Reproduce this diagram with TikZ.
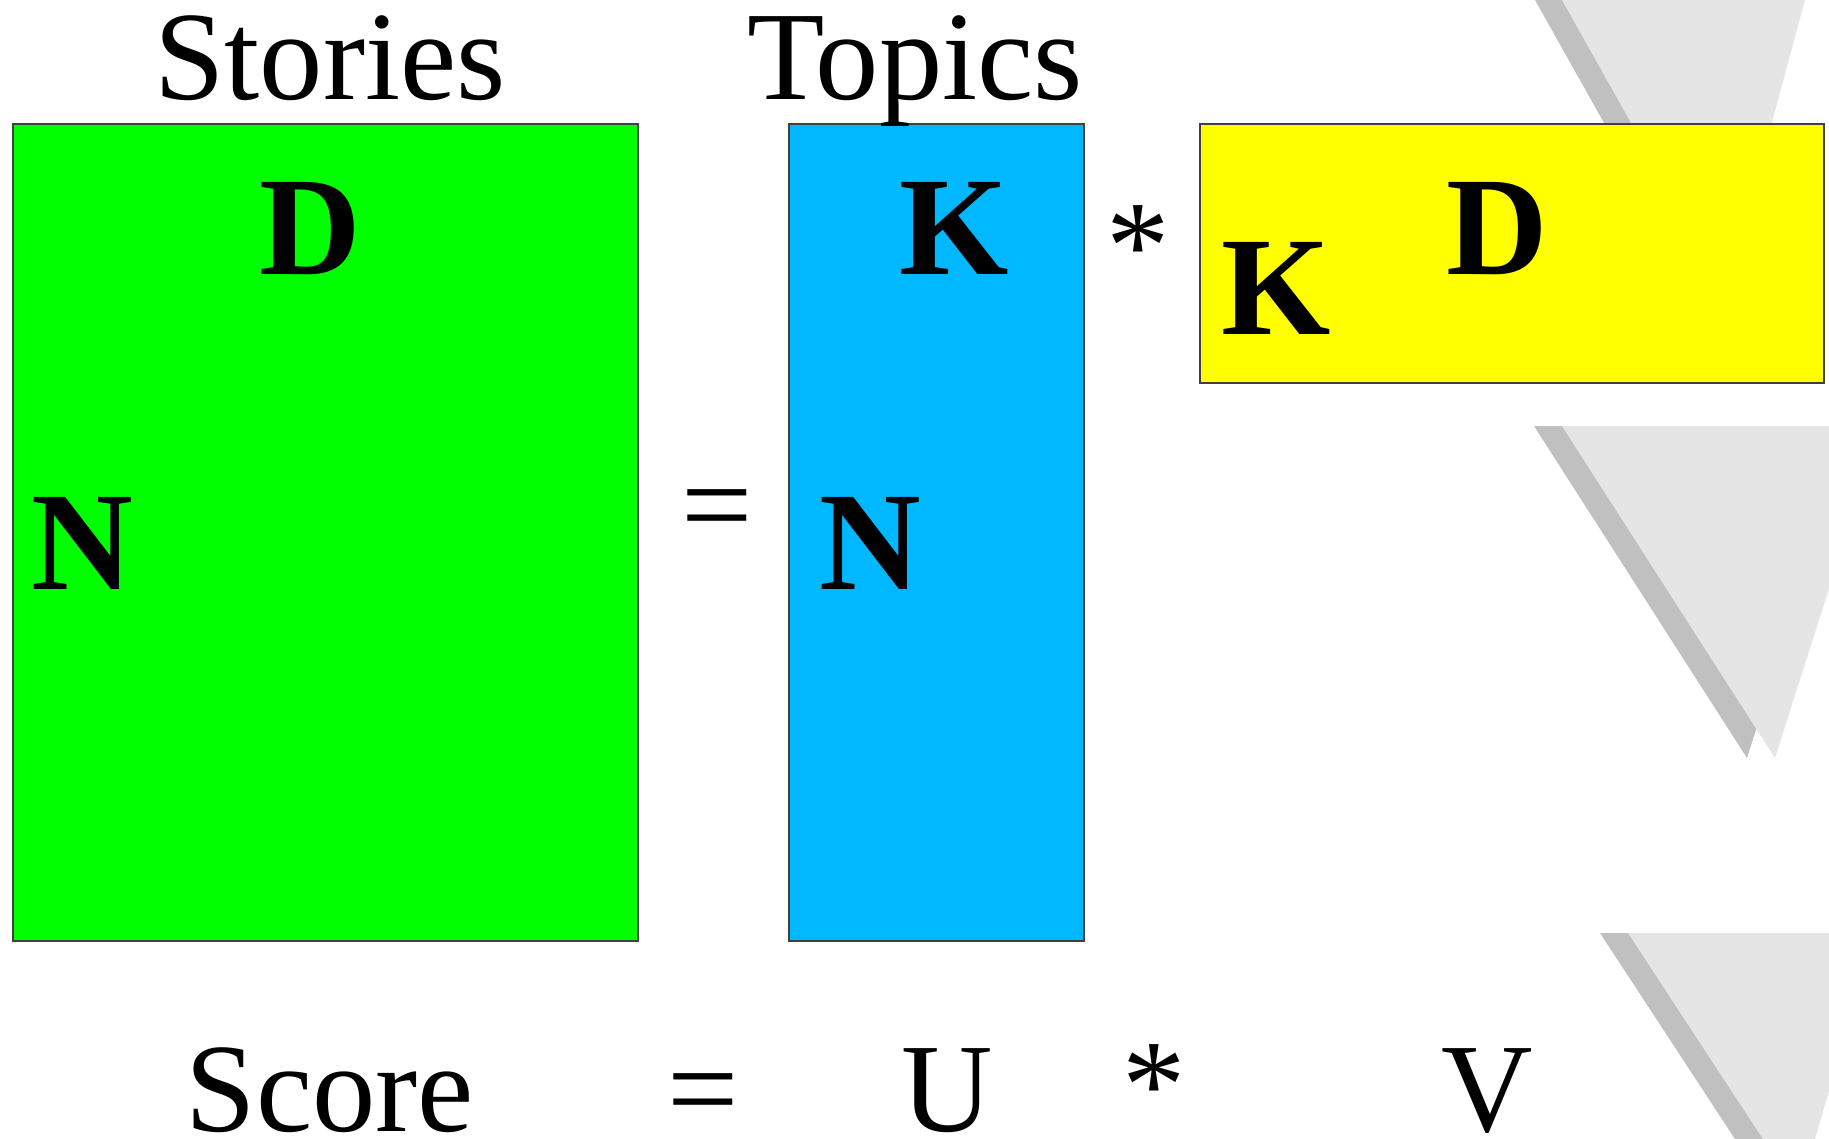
\documentclass[tikz,border=0pt]{standalone}
\usepackage{fontspec}
\setmainfont{Liberation Serif}
\definecolor{storygreen}{RGB}{0,255,0}
\definecolor{topicblue}{RGB}{0,184,255}
\definecolor{wordyellow}{RGB}{255,255,0}
\definecolor{triglight}{RGB}{229,229,229}
\definecolor{trigshadow}{RGB}{192,192,192}
\tikzset{
  matbox/.style={draw=black!75, line width=0.3pt},
  headtext/.style={font=\fontsize{36}{40}\selectfont, anchor=base, inner sep=0pt},
  dimtext/.style={font=\fontsize{40}{44}\selectfont\bfseries, anchor=base, inner sep=0pt},
  optext/.style={font=\fontsize{36}{40}\selectfont, anchor=base, inner sep=0pt}
}

\begin{document}
\begin{tikzpicture}[x=0.01cm, y=-0.01cm]
	\useasboundingbox (0,0) rectangle (1829,1138);
	% grey triangles of the slide
	\begin{scope}
		\clip (0,0) rectangle (1829,1138);
		\fill[trigshadow] (1535,0) -- (1778,0) -- (1699,292) -- cycle;
		\fill[triglight] (1562,0) -- (1805,0) -- (1726,292) -- cycle;
		\fill[trigshadow] (1534,426) -- (1853,426) -- (1747,758) -- cycle;
		\fill[triglight] (1562,426) -- (1881,426) -- (1775,758) -- cycle;
		\fill[trigshadow] (1600,933) -- (1847,933) -- (1771,1194) -- cycle;
		\fill[triglight] (1628,933) -- (1875,933) -- (1799,1194) -- cycle;
	\end{scope}
	% matrices
	\draw[matbox, fill=storygreen] (13,124) rectangle (638,941);
	\draw[matbox, fill=topicblue] (789,124) rectangle (1084,941);
	\draw[matbox, fill=wordyellow] (1200,124) rectangle (1824,383);
	\node[headtext] (stories) at (330,99) {Stories};
	\node[headtext] (topics) at (915,99) {Topics};
	\node[dimtext] (sd) at (310,274) {D};
	\node[dimtext] (sn) at (82,589) {N};
	\node[dimtext] (tk) at (954,274) {K};
	\node[dimtext] (tn) at (870,589) {N};
	\node[dimtext] (wk) at (1276,334) {K};
	\node[dimtext] (wd) at (1497,274) {D};
	\node[optext] (eqtop) at (717,547) {=};
	\node[optext] (multop) at (1138,288) {*};
	% formula
	\node[headtext] (score) at (330,1131) {Score};
	\node[optext] (eqbot) at (703,1131) {=};
	\node[headtext] (u) at (947,1131) {U};
	\node[optext] (multbot) at (1154,1127) {*};
	\node[headtext] (v) at (1487,1131) {V};
\end{tikzpicture}
\end{document}
